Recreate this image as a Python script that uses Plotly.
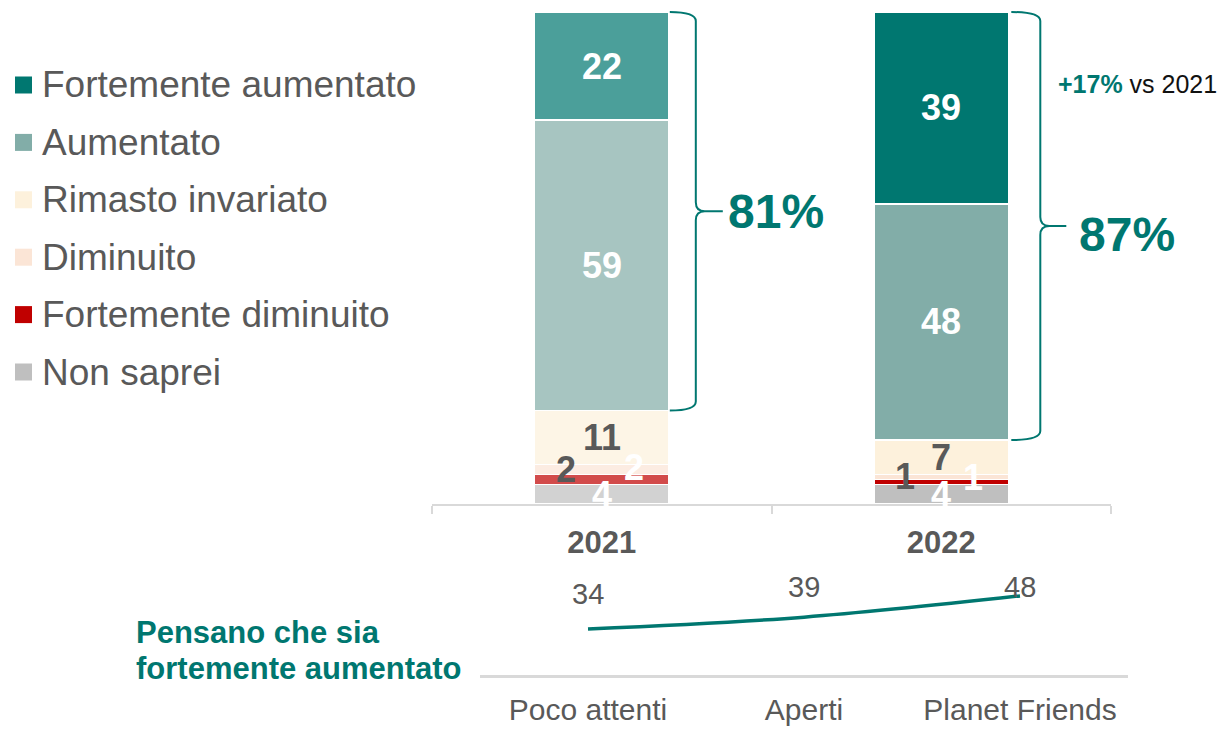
import plotly.graph_objects as go

# ---------------- data ----------------
years = ["2021", "2022"]
series_names = ["Non saprei", "Fortemente diminuito", "Diminuito",
                "Rimasto invariato", "Aumentato", "Fortemente aumentato"]
non_saprei = [4, 4]
fortemente_diminuito = [2, 1]
diminuito = [2, 1]
rimasto_invariato = [11, 7]
aumentato = [59, 48]
fortemente_aumentato = [22, 39]

segments = ["Poco attenti", "Aperti", "Planet Friends"]
forte_aumento_segment = [34, 39, 48]

# ---------------- style ----------------
W, H = 1226, 729
FONT = "Liberation Sans, Arial, sans-serif"
TEAL = "#007770"
GREY_TXT = "#595959"
AXIS_GREY = "#D9D9D9"
colors = {
    "Non saprei": "#BFBFBF",
    "Fortemente diminuito": "#C00000",
    "Diminuito": "#FBE5D6",
    "Rimasto invariato": "#FDF1DC",
    "Aumentato": "#82ADA8",
    "Fortemente aumentato": "#007770",
}
dark_label = {"Rimasto invariato", "Diminuito"}
label_shift = {  # (xshift, yshift per year) in px
    "Non saprei": (0, [0, 0]),
    "Fortemente diminuito": (32, [12, 4]),
    "Diminuito": (-36, [0, 0]),
    "Rimasto invariato": (0, [0, 0]),
    "Aumentato": (0, [0, 0]),
    "Fortemente aumentato": (0, [0, 0]),
}
year_opacity = [0.7, 1.0]

# main plot geometry (pixels)
X0, X1 = 432, 1111     # x-domain
YB, YT = 504, 12       # y-domain bottom/top
BAR_W = 0.395
XR = (-0.5, 1.5)
YR = (0, 100)


def px_x(v):
    return X0 + (v - XR[0]) / (XR[1] - XR[0]) * (X1 - X0)


def px_y(v):
    return YB - (v - YR[0]) / (YR[1] - YR[0]) * (YB - YT)


def pap_x(p):
    return p / W


def pap_y(p):
    return 1 - p / H


values = {
    "Non saprei": non_saprei,
    "Fortemente diminuito": fortemente_diminuito,
    "Diminuito": diminuito,
    "Rimasto invariato": rimasto_invariato,
    "Aumentato": aumentato,
    "Fortemente aumentato": fortemente_aumentato,
}

fig = go.Figure()

for name in series_names:
    fig.add_trace(go.Bar(
        x=years, y=values[name], name=name,
        width=BAR_W,
        marker=dict(color=colors[name], opacity=year_opacity,
                    line=dict(color="white", width=1.5)),
        hoverinfo="skip", showlegend=False,
        xaxis="x", yaxis="y",
    ))

fig.add_trace(go.Scatter(
    x=segments, y=forte_aumento_segment, mode="lines",
    line=dict(color=TEAL, width=3.5, shape="spline"),
    xaxis="x2", yaxis="y2", showlegend=False, hoverinfo="skip",
))

annotations = []
shapes = []

# segment value labels
for yi, yr in enumerate(years):
    base = 0
    for name in series_names:
        v = values[name][yi]
        xs, ys = label_shift[name]
        annotations.append(dict(
            x=yi, y=base + v / 2, xref="x", yref="y", text=str(v),
            showarrow=False, xshift=xs, yshift=ys[yi],
            font=dict(family=FONT, size=36, weight="bold",
                      color=GREY_TXT if name in dark_label else "white"),
        ))
        base += v

# braces with totals
brace_cfg = [(1, 27, 54), (3, 32, 58)]
total_fmt = [(3, 0), (11, -8)]
for yi, yr in enumerate(years):
    total = sum(values[n][yi] for n in series_names)
    top_share = fortemente_aumentato[yi] + aumentato[yi]
    y_top = px_y(total)
    y_bot = px_y(total - top_share)
    y_mid = (y_top + y_bot) / 2
    edge = px_x(yi + BAR_W / 2)
    s, v, t = brace_cfg[yi]
    x0, xv, xt = edge + s, edge + v, edge + t
    r = 9
    pts = lambda x, y: f"{pap_x(x):.5f},{pap_y(y):.5f}"
    path = (f"M {pts(x0, y_top)} Q {pts(xv, y_top)} {pts(xv, y_top + r)} "
            f"L {pts(xv, y_mid - r)} Q {pts(xv, y_mid)} {pts(xv + r, y_mid)} "
            f"L {pts(xt, y_mid)} M {pts(xv + r, y_mid)} "
            f"Q {pts(xv, y_mid)} {pts(xv, y_mid + r)} "
            f"L {pts(xv, y_bot - r)} Q {pts(xv, y_bot)} {pts(x0, y_bot)}")
    shapes.append(dict(type="path", path=path, xref="paper", yref="paper",
                       line=dict(color=TEAL, width=2)))
    dx, dy = total_fmt[yi]
    annotations.append(dict(
        x=pap_x(xt + dx), y=pap_y(y_mid - dy), xref="paper", yref="paper",
        xanchor="left", yanchor="middle", showarrow=False,
        text=f"{top_share}%",
        font=dict(family=FONT, size=48, weight="bold", color=TEAL),
    ))

# +17% vs 2021
delta = fortemente_aumentato[1] - fortemente_aumentato[0]
annotations.append(dict(
    x=pap_x(1056), y=pap_y(84), xref="paper", yref="paper",
    xanchor="left", yanchor="middle", showarrow=False,
    text=f"<b><span style='color:{TEAL}'>+{delta}%</span></b> vs {years[0]}",
    font=dict(family=FONT, size=25, color="#111111"),
))

# manual legend (top to bottom)
leg_top, leg_step = 85, 57.4
for i, name in enumerate(reversed(series_names)):
    cy = leg_top + i * leg_step
    shapes.append(dict(type="rect", xref="paper", yref="paper",
                       x0=pap_x(15), x1=pap_x(32),
                       y0=pap_y(cy - 8.5), y1=pap_y(cy + 8.5),
                       fillcolor=colors[name], line=dict(width=0)))
    annotations.append(dict(
        x=pap_x(40), y=pap_y(cy), xref="paper", yref="paper",
        xanchor="left", yanchor="middle", showarrow=False, text=name,
        font=dict(family=FONT, size=37, color=GREY_TXT),
    ))

# line chart labels
line_yshift = [35, 30, 9]
for si, (v, ys) in enumerate(zip(forte_aumento_segment, line_yshift)):
    annotations.append(dict(
        x=si, y=v, xref="x2", yref="y2", text=str(v), showarrow=False,
        yshift=ys, font=dict(family=FONT, size=29, color=GREY_TXT),
    ))

for line_txt, cy in [("Pensano che sia", 632), ("fortemente aumentato", 668)]:
    annotations.append(dict(
        x=pap_x(134), y=pap_y(cy), xref="paper", yref="paper",
        xanchor="left", yanchor="middle", showarrow=False, align="left",
        text=f"<b>{line_txt}</b>",
        font=dict(family=FONT, size=31, color=TEAL),
    ))

fig.update_layout(
    width=W, height=H,
    margin=dict(l=0, r=0, t=0, b=0, autoexpand=False),
    paper_bgcolor="white", plot_bgcolor="white",
    barmode="stack", showlegend=False,
    font=dict(family=FONT, color=GREY_TXT),
    xaxis=dict(
        type="category", domain=[X0 / W, X1 / W], range=list(XR),
        showline=True, linecolor=AXIS_GREY, linewidth=2,
        ticks="outside", ticklen=8, tickwidth=2, tickcolor=AXIS_GREY,
        tickson="boundaries", showgrid=False, zeroline=False,
        tickfont=dict(family=FONT, size=31, weight="bold", color=GREY_TXT),
        ticklabelstandoff=10, fixedrange=True, automargin=False,
    ),
    yaxis=dict(domain=[pap_y(YB), pap_y(YT)], range=list(YR), visible=False,
               fixedrange=True, automargin=False),
    xaxis2=dict(
        type="category", anchor="y2", domain=[480 / W, 1128 / W],
        range=[-0.5, len(segments) - 0.5],
        showline=True, linecolor=AXIS_GREY, linewidth=3, ticks="",
        showgrid=False, zeroline=False,
        tickfont=dict(family=FONT, size=30, color=GREY_TXT),
        ticklabelstandoff=6, fixedrange=True, automargin=False,
    ),
    yaxis2=dict(anchor="x2", domain=[pap_y(675), pap_y(560)],
                range=[14.5, 63.2], visible=False, fixedrange=True,
                automargin=False),
    annotations=annotations,
    shapes=shapes,
)

fig.write_html("out.html",
               config={"displayModeBar": False},
               post_script="document.body.style.margin='0';"
                           "document.body.style.overflow='hidden';")
